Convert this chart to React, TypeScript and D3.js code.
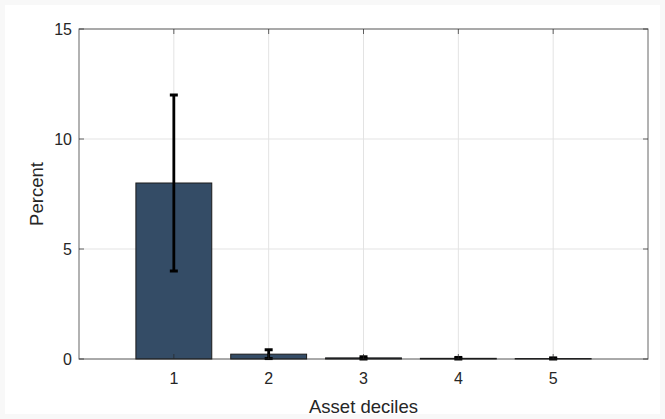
import React from "react";
import * as d3 from "d3";

const categories = [1, 2, 3, 4, 5];
const values = [8.0, 0.22, 0.05, 0.03, 0.02];
const errLow = [4.0, 0.02, 0.0, 0.0, 0.0];
const errHigh = [12.0, 0.42, 0.1, 0.07, 0.05];
const yTicks = [0, 5, 10, 15];
const xTicks = [1, 2, 3, 4, 5];

const W = 665, H = 419;
const L = 79, R = 648, T = 29, B = 359;

export default function App() {
  const x = d3.scaleLinear().domain([0, 6]).range([L, R]);
  const y = d3.scaleLinear().domain([0, 15]).range([B, T]);
  const bw = (x(1) - x(0)) * 0.8;
  const font = "Liberation Sans, Arial, Helvetica, sans-serif";
  const axisColor = "#262626";
  return (
    <svg width={W} height={H} style={{ position: "fixed", left: 0, top: 0 }} fontFamily={font}>
      <rect x={0} y={0} width={W} height={H} fill="#f8f8f8" />
      <rect x={5} y={5} width={W - 10} height={H - 10} fill="#ffffff" />
      <rect x={L} y={T} width={R - L} height={B - T} fill="#ffffff" />
      {xTicks.map((t) => (
        <line key={"gx" + t} x1={x(t)} x2={x(t)} y1={T} y2={B} stroke="#e3e3e3" strokeWidth={1} />
      ))}
      {yTicks.map((t) => (
        <line key={"gy" + t} x1={L} x2={R} y1={y(t)} y2={y(t)} stroke="#e3e3e3" strokeWidth={1} />
      ))}
      {categories.map((c, i) => (
        <rect
          key={"b" + c}
          x={x(c) - bw / 2}
          y={y(values[i])}
          width={bw}
          height={y(0) - y(values[i])}
          fill="#344c66"
          stroke="#1a1a1a"
          strokeWidth={1}
        />
      ))}
      {categories.map((c, i) => (
        <g key={"e" + c} stroke="#000">
          <line x1={x(c)} x2={x(c)} y1={y(errLow[i])} y2={y(errHigh[i])} strokeWidth={2.8} />
          <line x1={x(c) - 4} x2={x(c) + 4} y1={y(errLow[i])} y2={y(errLow[i])} strokeWidth={3} />
          <line x1={x(c) - 4} x2={x(c) + 4} y1={y(errHigh[i])} y2={y(errHigh[i])} strokeWidth={3} />
        </g>
      ))}
      <rect x={L} y={T} width={R - L} height={B - T} fill="none" stroke={axisColor} strokeWidth={1} strokeOpacity={0.7} />
      {xTicks.map((t) => (
        <g key={"tx" + t} stroke={axisColor} strokeOpacity={0.7}>
          <line x1={x(t)} x2={x(t)} y1={B} y2={B - 5} />
          <line x1={x(t)} x2={x(t)} y1={T} y2={T + 5} />
        </g>
      ))}
      {yTicks.map((t) => (
        <g key={"ty" + t} stroke={axisColor} strokeOpacity={0.7}>
          <line x1={L} x2={L + 5} y1={y(t)} y2={y(t)} />
          <line x1={R} x2={R - 5} y1={y(t)} y2={y(t)} />
        </g>
      ))}
      {xTicks.map((t) => (
        <text key={"lx" + t} x={x(t)} y={384} textAnchor="middle" fontSize={16} fill={axisColor}>
          {t}
        </text>
      ))}
      {yTicks.map((t) => (
        <text key={"ly" + t} x={72} y={y(t) + 5.8} textAnchor="end" fontSize={16} fill={axisColor}>
          {t}
        </text>
      ))}
      <text x={(L + R) / 2} y={413} textAnchor="middle" fontSize={18.5} fill={axisColor}>
        Asset deciles
      </text>
      <text
        transform={`translate(43,${(T + B) / 2}) rotate(-90)`}
        textAnchor="middle"
        fontSize={18.5}
        fill={axisColor}
      >
        Percent
      </text>
    </svg>
  );
}
